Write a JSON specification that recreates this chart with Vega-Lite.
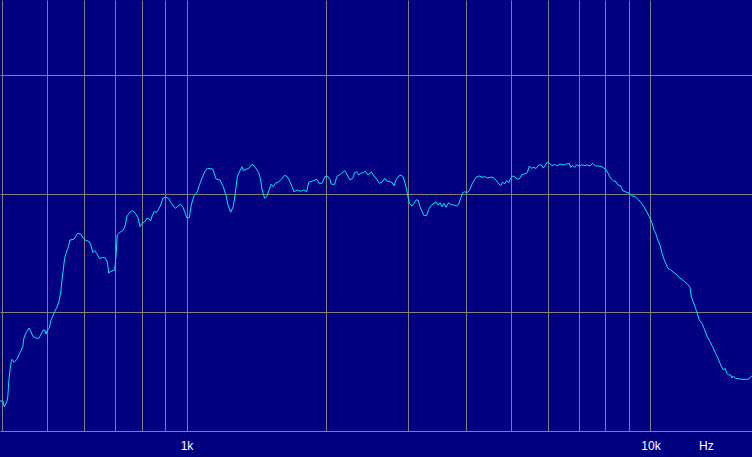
{
  "$schema": "https://vega.github.io/schema/vega-lite/v6.json",
  "width": 752,
  "height": 431,
  "autosize": {"type": "none"},
  "padding": {"top": 0, "left": 0, "right": 0, "bottom": 26},
  "background": "#000080",
  "config": {"view": {"stroke": null, "fill": "#000080"}},
  "data": {"values": [
    {"f":396,"db":52.53},{"f":402,"db":52.53},{"f":405,"db":52.03},{"f":410,"db":52.47},{"f":412,"db":52.87},{"f":414,"db":54.22},{"f":416,"db":55.00},{"f":419,"db":55.85},{"f":421,"db":56.05},{"f":425,"db":55.80},{"f":431,"db":56.05},{"f":435,"db":56.41},{"f":440,"db":56.78},{"f":444,"db":57.17},{"f":446,"db":57.82},{"f":451,"db":58.30},{"f":458,"db":58.69},{"f":461,"db":58.46},{"f":466,"db":58.02},{"f":472,"db":57.87},{"f":480,"db":57.79},{"f":485,"db":58.10},{"f":490,"db":58.46},{"f":495,"db":58.52},{"f":498,"db":58.19},{"f":501,"db":58.46},{"f":506,"db":58.67},{"f":510,"db":59.31},{"f":515,"db":59.70},{"f":520,"db":60.07},{"f":527,"db":60.55},{"f":532,"db":61.06},{"f":536,"db":61.76},{"f":539,"db":62.74},{"f":543,"db":63.73},{"f":546,"db":64.57},{"f":550,"db":65.00},{"f":555,"db":65.42},{"f":561,"db":66.12},{"f":572,"db":66.18},{"f":582,"db":66.68},{"f":592,"db":66.62},{"f":599,"db":66.26},{"f":605,"db":66.12},{"f":617,"db":65.98},{"f":622,"db":65.70},{"f":628,"db":65.05},{"f":634,"db":65.22},{"f":640,"db":65.00},{"f":649,"db":64.57},{"f":666,"db":64.66},{"f":675,"db":64.29},{"f":680,"db":63.31},{"f":684,"db":63.44},{"f":700,"db":63.59},{"f":705,"db":64.85},{"f":709,"db":66.54},{"f":719,"db":66.77},{"f":731,"db":66.96},{"f":738,"db":67.38},{"f":745,"db":68.17},{"f":755,"db":68.46},{"f":766,"db":68.59},{"f":776,"db":68.37},{"f":786,"db":68.00},{"f":794,"db":67.24},{"f":802,"db":67.53},{"f":813,"db":67.66},{"f":821,"db":67.95},{"f":831,"db":67.89},{"f":837,"db":67.72},{"f":843,"db":68.14},{"f":851,"db":68.51},{"f":862,"db":68.46},{"f":871,"db":68.73},{"f":880,"db":69.07},{"f":889,"db":69.64},{"f":900,"db":69.72},{"f":915,"db":69.64},{"f":927,"db":69.22},{"f":946,"db":68.79},{"f":959,"db":68.99},{"f":972,"db":69.13},{"f":981,"db":68.93},{"f":994,"db":68.37},{"f":1001,"db":68.00},{"f":1014,"db":68.00},{"f":1024,"db":69.07},{"f":1038,"db":69.86},{"f":1055,"db":70.19},{"f":1066,"db":70.76},{"f":1080,"db":71.33},{"f":1095,"db":71.88},{"f":1109,"db":72.17},{"f":1139,"db":72.11},{"f":1158,"db":71.27},{"f":1181,"db":71.18},{"f":1200,"db":70.62},{"f":1217,"db":69.86},{"f":1229,"db":69.07},{"f":1245,"db":68.46},{"f":1261,"db":68.93},{"f":1274,"db":70.06},{"f":1287,"db":71.46},{"f":1304,"db":71.97},{"f":1317,"db":72.30},{"f":1326,"db":71.97},{"f":1344,"db":72.08},{"f":1362,"db":72.17},{"f":1384,"db":72.51},{"f":1407,"db":72.25},{"f":1431,"db":71.80},{"f":1445,"db":71.18},{"f":1455,"db":70.34},{"f":1474,"db":69.64},{"f":1489,"db":69.77},{"f":1508,"db":70.40},{"f":1523,"db":70.84},{"f":1539,"db":70.62},{"f":1554,"db":70.90},{"f":1580,"db":71.04},{"f":1601,"db":71.24},{"f":1628,"db":71.58},{"f":1649,"db":71.46},{"f":1671,"db":71.04},{"f":1688,"db":70.62},{"f":1705,"db":70.19},{"f":1733,"db":70.34},{"f":1763,"db":70.23},{"f":1785,"db":70.34},{"f":1816,"db":70.19},{"f":1834,"db":70.99},{"f":1876,"db":71.12},{"f":1908,"db":71.24},{"f":1933,"db":70.90},{"f":1959,"db":70.90},{"f":1986,"db":71.46},{"f":2011,"db":71.52},{"f":2038,"db":71.24},{"f":2052,"db":70.82},{"f":2087,"db":70.82},{"f":2107,"db":71.46},{"f":2150,"db":71.69},{"f":2193,"db":71.97},{"f":2221,"db":71.60},{"f":2251,"db":71.18},{"f":2282,"db":71.33},{"f":2304,"db":71.80},{"f":2327,"db":71.88},{"f":2351,"db":71.60},{"f":2374,"db":71.75},{"f":2405,"db":71.80},{"f":2429,"db":71.92},{"f":2462,"db":71.60},{"f":2502,"db":71.86},{"f":2527,"db":71.60},{"f":2561,"db":71.33},{"f":2604,"db":70.90},{"f":2639,"db":70.99},{"f":2674,"db":71.33},{"f":2701,"db":71.10},{"f":2736,"db":71.04},{"f":2773,"db":70.99},{"f":2800,"db":70.68},{"f":2828,"db":71.18},{"f":2867,"db":71.52},{"f":2904,"db":71.60},{"f":2933,"db":71.41},{"f":2962,"db":70.84},{"f":2992,"db":70.06},{"f":3021,"db":69.22},{"f":3062,"db":68.99},{"f":3093,"db":69.22},{"f":3124,"db":69.49},{"f":3155,"db":69.49},{"f":3186,"db":68.93},{"f":3218,"db":68.51},{"f":3250,"db":68.17},{"f":3294,"db":68.20},{"f":3327,"db":68.71},{"f":3370,"db":69.05},{"f":3415,"db":69.22},{"f":3449,"db":69.35},{"f":3484,"db":69.07},{"f":3519,"db":69.27},{"f":3554,"db":68.93},{"f":3589,"db":69.22},{"f":3625,"db":68.88},{"f":3674,"db":69.27},{"f":3710,"db":69.13},{"f":3759,"db":69.07},{"f":3823,"db":68.99},{"f":3861,"db":69.16},{"f":3899,"db":69.64},{"f":3938,"db":70.11},{"f":3977,"db":70.19},{"f":4017,"db":70.11},{"f":4069,"db":70.28},{"f":4124,"db":70.84},{"f":4165,"db":71.12},{"f":4207,"db":71.41},{"f":4276,"db":71.52},{"f":4334,"db":71.41},{"f":4393,"db":71.46},{"f":4450,"db":71.35},{"f":4510,"db":71.41},{"f":4584,"db":71.41},{"f":4630,"db":71.24},{"f":4692,"db":70.95},{"f":4756,"db":70.68},{"f":4803,"db":71.01},{"f":4851,"db":70.84},{"f":4899,"db":71.12},{"f":4948,"db":70.95},{"f":4998,"db":71.33},{"f":5047,"db":71.52},{"f":5098,"db":71.46},{"f":5164,"db":71.24},{"f":5234,"db":71.33},{"f":5286,"db":71.63},{"f":5357,"db":71.69},{"f":5427,"db":71.80},{"f":5481,"db":72.36},{"f":5536,"db":72.17},{"f":5610,"db":72.25},{"f":5666,"db":72.14},{"f":5743,"db":72.45},{"f":5817,"db":72.47},{"f":5875,"db":72.19},{"f":5934,"db":72.42},{"f":5993,"db":72.70},{"f":6053,"db":72.59},{"f":6134,"db":72.42},{"f":6236,"db":72.47},{"f":6298,"db":72.36},{"f":6383,"db":72.53},{"f":6488,"db":72.45},{"f":6599,"db":72.53},{"f":6684,"db":72.59},{"f":6731,"db":72.25},{"f":6798,"db":72.42},{"f":6866,"db":72.25},{"f":6935,"db":72.47},{"f":7025,"db":72.36},{"f":7119,"db":72.47},{"f":7215,"db":72.39},{"f":7308,"db":72.45},{"f":7408,"db":72.36},{"f":7508,"db":72.59},{"f":7605,"db":72.36},{"f":7734,"db":72.36},{"f":7862,"db":72.30},{"f":7992,"db":72.11},{"f":8072,"db":71.88},{"f":8152,"db":71.52},{"f":8234,"db":71.27},{"f":8316,"db":71.12},{"f":8428,"db":71.04},{"f":8512,"db":70.76},{"f":8627,"db":70.68},{"f":8713,"db":70.28},{"f":8857,"db":70.17},{"f":9003,"db":70.06},{"f":9124,"db":69.86},{"f":9275,"db":69.77},{"f":9433,"db":69.49},{"f":9555,"db":69.22},{"f":9684,"db":68.93},{"f":9815,"db":68.51},{"f":9942,"db":68.08},{"f":10076,"db":67.58},{"f":10177,"db":66.96},{"f":10278,"db":66.62},{"f":10381,"db":66.06},{"f":10484,"db":65.70},{"f":10589,"db":65.00},{"f":10695,"db":64.49},{"f":10801,"db":64.09},{"f":10909,"db":63.73},{"f":11056,"db":63.59},{"f":11239,"db":63.36},{"f":11424,"db":63.16},{"f":11504,"db":62.97},{"f":11653,"db":62.83},{"f":11852,"db":62.60},{"f":12006,"db":62.41},{"f":12168,"db":62.13},{"f":12246,"db":61.33},{"f":12412,"db":60.72},{"f":12579,"db":60.07},{"f":12742,"db":59.37},{"f":12914,"db":59.09},{"f":13088,"db":58.52},{"f":13258,"db":57.96},{"f":13437,"db":57.54},{"f":13619,"db":57.11},{"f":13795,"db":56.61},{"f":13981,"db":56.14},{"f":14170,"db":55.57},{"f":14354,"db":55.15},{"f":14497,"db":55.29},{"f":14598,"db":54.87},{"f":14744,"db":54.73},{"f":14891,"db":54.73},{"f":14987,"db":54.47},{"f":15084,"db":54.64},{"f":15235,"db":54.45},{"f":15750,"db":54.36},{"f":16283,"db":54.36},{"f":16445,"db":54.58},{"f":16552,"db":54.64}
  ]},
  "mark": {"type": "line", "color": "#00e8f0", "strokeWidth": 1, "clip": true},
  "encoding": {
    "x": {
      "field": "f",
      "type": "quantitative",
      "scale": {"type": "log", "domain": [396.3, 16552], "nice": false},
      "axis": {
        "title": null,
        "values": [400, 500, 600, 700, 800, 900, 1000, 2000, 3000, 4000, 5000, 6000, 7000, 8000, 9000, 10000, 13170],
        "labelExpr": "datum.value == 1000 ? '1k' : datum.value == 10000 ? '10k' : datum.value > 13000 ? 'Hz' : ''",
        "grid": true,
        "gridColor": "#808080",
        "gridOpacity": {"condition": {"test": "datum.value > 12000", "value": 0}, "value": 1},
        "gridWidth": 1,
        "domain": false,
        "ticks": false,
        "tickSize": 0,
        "labelPadding": 9,
        "labelColor": "#ffffff",
        "labelFont": "Liberation Sans",
        "labelFontSize": 12,
        "labelOverlap": false,
        "labelFlush": false
      }
    },
    "y": {
      "field": "db",
      "type": "quantitative",
      "scale": {"domain": [50, 86.37], "nice": false, "zero": false},
      "axis": {
        "title": null,
        "values": [50, 60, 70, 80],
        "grid": true,
        "gridColor": "#808080",
        "gridWidth": 1,
        "domain": false,
        "ticks": false,
        "labels": false
      }
    }
  }
}
